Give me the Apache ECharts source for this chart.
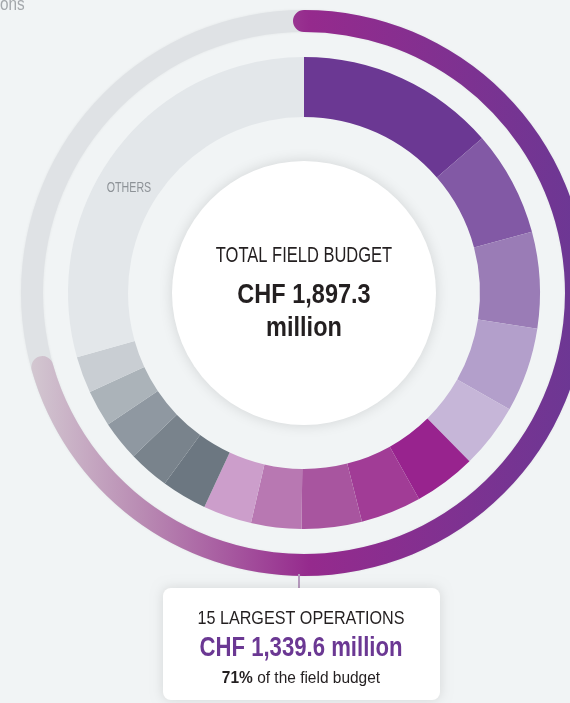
<!DOCTYPE html>
<html>
<head>
<meta charset="utf-8">
<script src="https://cdn.jsdelivr.net/npm/echarts@6/dist/echarts.min.js"></script>
<style>
  html, body { margin: 0; padding: 0; background: #f1f4f5; }
  #chart { width: 570px; height: 703px; }
</style>
</head>
<body>
<div id="chart"></div>
<script>
// 15 largest operations (CHF million), clockwise from 12 o'clock
const operations = ['Operation 1', 'Operation 2', 'Operation 3', 'Operation 4', 'Operation 5',
  'Operation 6', 'Operation 7', 'Operation 8', 'Operation 9', 'Operation 10',
  'Operation 11', 'Operation 12', 'Operation 13', 'Operation 14', 'Operation 15']
const budgets = [258.2, 137.0, 124.9, 109.6, 84.3, 80.9, 78.8, 78.0, 65.4, 63.2, 59.0, 53.2, 52.2, 47.4, 47.5]
const othersBudget = 557.7
const totalBudget = 1897.3
const largestBudget = 1339.6
const sliceColors = ['#6b3893', '#8259a5', '#9a7cb6', '#b39fcb', '#c6b6d8',
  '#98238e', '#a13c96', '#a8559f', '#b878b2', '#cc9ecb',
  '#6c7781', '#79838c', '#8f98a1', '#abb3b9', '#c9ced3']
const othersColor = '#e3e7ea'

// condensed look: Arial-metric font squeezed horizontally
const font = "'Liberation Sans', Arial, sans-serif"
const cx = 304, cy = 293

let pieData = operations.map((name, i) => ({
  name: name,
  value: budgets[i],
  itemStyle: {color: sliceColors[i]}
}))
pieData.push({name: 'Others', value: othersBudget, itemStyle: {color: othersColor}})

const label = (text, x, y, size, opts) => {
  opts = opts || {}
  return {
    type: 'text', x: x, y: y, z: 10, scaleX: opts.sx || 0.8,
    style: {
      text: text,
      font: (opts.bold ? 'bold ' : '') + size + 'px ' + font,
      fill: opts.color || '#231f20',
      align: opts.align || 'center',
      verticalAlign: 'middle',
      rich: opts.rich
    }
  }
}

let myChart = echarts.init(document.getElementById('chart'))

let option = {
  backgroundColor: '#f1f4f5',
  animation: false,
  graphic: [
    // cut-off heading at the top left
    label('ons', 0, 5, 18, {align: 'left', color: '#a3a7ab', sx: 0.85}),
    // white centre disc
    {type: 'circle', shape: {cx: cx, cy: cy, r: 132}, z: 1,
      style: {fill: '#ffffff', shadowBlur: 14, shadowColor: 'rgba(0,0,0,0.13)'}},
    label('TOTAL FIELD BUDGET', cx, 256, 22, {sx: 0.75}),
    label('CHF 1,897.3', cx, 295, 28, {bold: true, sx: 0.84}),
    label('million', cx, 328, 28, {bold: true, sx: 0.84}),
    label('OTHERS', 129, 188, 14, {color: '#8d9297', sx: 0.76}),
    // connector and callout box
    {type: 'line', shape: {x1: 299, y1: 574, x2: 299, y2: 590}, z: 3,
      style: {stroke: '#b79bbf', lineWidth: 2}},
    {type: 'rect', shape: {x: 163, y: 588, width: 277, height: 112, r: 8}, z: 4,
      style: {fill: '#ffffff', shadowBlur: 12, shadowColor: 'rgba(0,0,0,0.12)'}},
    label('15 LARGEST OPERATIONS', 301, 619, 19, {sx: 0.85}),
    label('CHF 1,339.6 million', 301, 649, 27, {bold: true, color: '#6b3893', sx: 0.82}),
    label('{b|71%} of the field budget', 301, 678, 17, {
      sx: 0.91,
      rich: {b: {fontWeight: 'bold', fontSize: 17, fontFamily: font, fill: '#231f20'}}
    })
  ],
  series: [
    {
      name: '预算',
      type: 'pie',
      center: [cx, cy],
      radius: [176, 236],
      startAngle: 90,
      silent: true,
      label: {show: false},
      labelLine: {show: false},
      itemStyle: {borderWidth: 0},
      data: pieData
    },
    {
      // outer arc: share of the 15 largest operations
      type: 'gauge',
      center: [cx, cy],
      radius: 283,
      startAngle: 90,
      endAngle: -270,
      min: 0,
      max: totalBudget,
      silent: true,
      pointer: {show: false},
      axisTick: {show: false},
      splitLine: {show: false},
      axisLabel: {show: false},
      title: {show: false},
      detail: {show: false},
      axisLine: {
        lineStyle: {width: 22, color: [[1, '#dfe2e5']], shadowBlur: 3, shadowColor: 'rgba(0,0,0,0.06)'}
      },
      progress: {
        show: true,
        width: 22,
        roundCap: true,
        itemStyle: {
          color: new echarts.graphic.LinearGradient(590, 0, 30, 0, [
            {offset: 0, color: '#6a3894'},
            {offset: 0.5, color: '#952a8d'},
            {offset: 0.8, color: '#b98bb3'},
            {offset: 1, color: '#d3c8d1'}
          ], true)
        }
      },
      data: [{value: largestBudget}]
    }
  ]
}
myChart.setOption(option)
</script>
</body>
</html>
